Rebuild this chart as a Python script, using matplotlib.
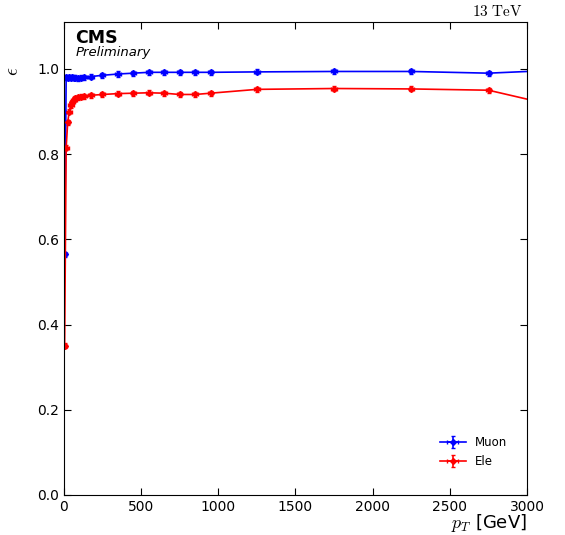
import matplotlib
matplotlib.use("Agg")
import matplotlib.pyplot as plt
from matplotlib.ticker import MultipleLocator

plt.rcParams['mathtext.fontset'] = 'cm'
plt.rcParams['font.family'] = ['DejaVu Sans']

# bin centres (GeV)
pt = [5, 15, 25, 35, 45, 55, 65, 75, 90, 110, 130, 175, 250, 350, 450, 550,
      650, 750, 850, 950, 1250, 1750, 2250, 2750, 3250]
muon_eff = [0.565, 0.980, 0.979, 0.980, 0.979, 0.980, 0.979, 0.979, 0.978, 0.979,
            0.980, 0.982, 0.985, 0.988, 0.990, 0.992, 0.992, 0.992, 0.992, 0.992,
            0.993, 0.994, 0.994, 0.990, 0.998]
ele_eff = [0.350, 0.815, 0.875, 0.900, 0.915, 0.922, 0.928, 0.931, 0.933, 0.935,
           0.936, 0.938, 0.940, 0.942, 0.943, 0.944, 0.943, 0.940, 0.940, 0.943,
           0.952, 0.954, 0.953, 0.950, 0.908]
muon_err = [0.006] * len(pt)
ele_err = [0.006] * len(pt)
pt_err = [18] * len(pt)

fig = plt.figure(figsize=(5.65, 5.35), dpi=100)
ax = fig.add_axes([0.113, 0.0748, 0.82, 0.884])

ax.errorbar(pt, muon_eff, xerr=pt_err, yerr=muon_err, color='blue', marker='D',
            markersize=3, lw=1.2, elinewidth=1.2, capsize=1.5, label='Muon')
ax.errorbar(pt, ele_eff, xerr=pt_err, yerr=ele_err, color='red', marker='D',
            markersize=3, lw=1.2, elinewidth=1.2, capsize=1.5, label='Ele')

ax.set_xlim(0, 3000)
ax.set_ylim(0, 1.11)
ax.xaxis.set_major_locator(MultipleLocator(500))
ax.yaxis.set_major_locator(MultipleLocator(0.2))
ax.tick_params(direction='in', top=True, right=True, labelsize=10, length=5)

ax.set_xlabel(r'$p_T$ [GeV]', fontsize=13, loc='right', va='top')
ax.xaxis.set_label_coords(1.0, -0.036)
ax.set_ylabel(r'$\epsilon$', fontsize=14, loc='top')
ax.yaxis.set_label_coords(-0.09, 0.905)

ax.text(0.025, 0.985, 'CMS', transform=ax.transAxes, fontsize=12.5,
        fontweight='bold', va='top', ha='left')
ax.text(0.025, 0.95, 'Preliminary', transform=ax.transAxes, fontsize=9.5,
        style='italic', va='top', ha='left')
ax.text(0.99, 1.006, r'$\mathrm{13\ TeV}$', transform=ax.transAxes, fontsize=11,
        ha='right', va='bottom')

ax.legend(loc='lower right', frameon=False, fontsize=8.5,
          bbox_to_anchor=(0.98, 0.035), handlelength=2.2)

fig.savefig('out.png', dpi=100)
